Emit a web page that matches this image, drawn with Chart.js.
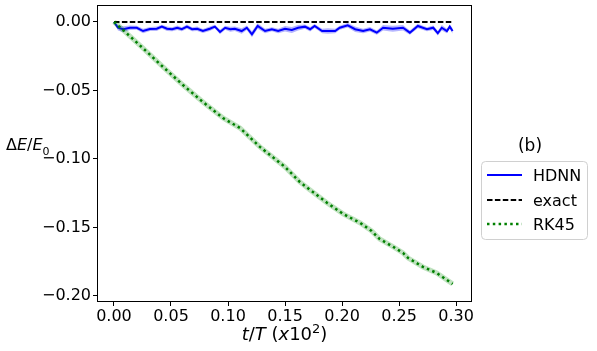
<!DOCTYPE html>
<html>
<head>
<meta charset="utf-8">
<script src="https://cdn.jsdelivr.net/npm/chart.js@4.4.1/dist/chart.umd.min.js"></script>
<style>
  html, body { margin: 0; padding: 0; background: #fff; }
  #wrap { width: 597px; height: 351px; }
</style>
</head>
<body>
<div id="wrap"><canvas id="c" width="597" height="351"></canvas></div>
<script>
// ---- data ----
const xTicks = [0.00, 0.05, 0.10, 0.15, 0.20, 0.25, 0.30];
const yTicks = [0.00, -0.05, -0.10, -0.15, -0.20];

const hdnnT = [0, 0.0035, 0.008, 0.014, 0.020, 0.0255, 0.0315, 0.0375, 0.042, 0.0465,
  0.051, 0.0555, 0.0595, 0.064, 0.0685, 0.073, 0.078, 0.084, 0.0885, 0.093,
  0.0975, 0.102, 0.106, 0.112, 0.1165, 0.121, 0.126, 0.1325, 0.1385, 0.144,
  0.150, 0.156, 0.1615, 0.1675, 0.172, 0.176, 0.1825, 0.1875, 0.194, 0.198,
  0.205, 0.2115, 0.2185, 0.2245, 0.2305, 0.236, 0.2445, 0.2535, 0.2595, 0.2665,
  0.2745, 0.280, 0.284, 0.2875, 0.292, 0.2945, 0.297];
const hdnnE = [0, -0.0042, -0.0053, -0.0042, -0.0042, -0.0066, -0.0051, -0.0049, -0.0034, -0.0049,
  -0.0053, -0.0042, -0.0053, -0.0034, -0.0053, -0.0049, -0.0066, -0.0049, -0.0034, -0.0073,
  -0.0042, -0.0053, -0.0049, -0.0066, -0.0042, -0.0090, -0.0029, -0.0066, -0.0053, -0.0066,
  -0.0049, -0.0058, -0.0042, -0.0034, -0.0053, -0.0029, -0.0066, -0.0066, -0.0066, -0.0042,
  -0.0024, -0.0053, -0.0066, -0.0053, -0.0078, -0.0042, -0.0049, -0.0042, -0.0078, -0.0029,
  -0.0053, -0.0042, -0.0082, -0.0042, -0.0066, -0.0034, -0.0066];
const hdnnSpread = [0.0006, 0.0020, 0.0022, 0.0016, 0.0014, 0.0016, 0.0014, 0.0016, 0.0014, 0.0016,
  0.0014, 0.0016, 0.0014, 0.0016, 0.0014, 0.0016, 0.0014, 0.0016, 0.0014, 0.0016,
  0.0014, 0.0018, 0.0016, 0.0020, 0.0016, 0.0022, 0.0020, 0.0016, 0.0014, 0.0016,
  0.0020, 0.0022, 0.0020, 0.0016, 0.0016, 0.0014, 0.0016, 0.0020, 0.0016, 0.0014,
  0.0016, 0.0020, 0.0016, 0.0016, 0.0016, 0.0020, 0.0022, 0.0020, 0.0016, 0.0016,
  0.0014, 0.0016, 0.0016, 0.0020, 0.0016, 0.0016, 0.0020];

const exactT = [0, 0.297];
const exactE = [0, 0];

const rkT = [0, 0.0096, 0.0254, 0.043, 0.0605, 0.078, 0.0956, 0.1105, 0.128, 0.150,
  0.1544, 0.163, 0.172, 0.187, 0.201, 0.216, 0.226, 0.233, 0.245, 0.2535,
  0.258, 0.271, 0.283, 0.297];
const rkE = [0, -0.0071, -0.0191, -0.0328, -0.0460, -0.0584, -0.0701, -0.0774, -0.0912, -0.1058,
  -0.1095, -0.1168, -0.1226, -0.1321, -0.1401, -0.1467, -0.1526, -0.1584, -0.1642, -0.1686,
  -0.1723, -0.1788, -0.1832, -0.1912];

const seriesNames = ['HDNN', 'exact', 'RK45'];
const panelLabel = '(b)';

// ---- build point tables ----
const pts = (xs, ys) => xs.map((x, i) => ({x: x, y: ys[i]}));
const hdnnLo = hdnnE.map((v, i) => v - hdnnSpread[i]);
const hdnnHi = hdnnE.map((v, i) => v + hdnnSpread[i]);

const FONT = "'DejaVu Sans', sans-serif";
const fmt = v => {
  if (Math.abs(v) < 1e-9) return '0.00';
  return (v < 0 ? '\u2212' : '') + Math.abs(v).toFixed(2);
};

const dashHDNN = [];
const dashExact = [5.5, 2.4];
const dashRK = [2.5, 3.3];

const decor = {
  id: 'decor',
  afterDraw(chart) {
    const ctx = chart.ctx;
    const a = chart.chartArea;
    ctx.save();
    // frame
    ctx.strokeStyle = '#000';
    ctx.lineWidth = 1;
    ctx.strokeRect(Math.round(a.left) + 0.5, Math.round(a.top) + 0.5,
                   Math.round(a.right - a.left) - 1, Math.round(a.bottom - a.top) - 1);

    // mixed-style text helper
    const drawRuns = (runs, x, y, align) => {
      let total = 0;
      runs.forEach(r => { ctx.font = r.font; total += ctx.measureText(r.t).width; });
      let cx = align === 'center' ? x - total / 2 : x;
      ctx.textBaseline = 'alphabetic';
      ctx.textAlign = 'left';
      runs.forEach(r => {
        ctx.font = r.font;
        ctx.fillText(r.t, cx, y + (r.dy || 0));
        cx += ctx.measureText(r.t).width;
      });
    };
    ctx.fillStyle = '#000';
    // y title
    drawRuns([
      {t: '\u0394', font: '16px ' + FONT},
      {t: 'E', font: 'italic 16px ' + FONT},
      {t: '/', font: '16px ' + FONT},
      {t: 'E', font: 'italic 16px ' + FONT},
      {t: '0', font: '11px ' + FONT, dy: 5}
    ], 6, 150, 'left');
    // x title
    drawRuns([
      {t: 't', font: 'italic 18px ' + FONT},
      {t: '/', font: '18px ' + FONT},
      {t: 'T', font: 'italic 18px ' + FONT},
      {t: ' (', font: '18px ' + FONT},
      {t: 'x', font: 'italic 18px ' + FONT},
      {t: '10', font: '18px ' + FONT},
      {t: '2', font: '13px ' + FONT, dy: -7},
      {t: ')', font: '18px ' + FONT}
    ], (a.left + a.right) / 2, 340, 'center');

    // panel label
    ctx.font = '17px ' + FONT;
    ctx.textAlign = 'center';
    ctx.fillText(panelLabel, 530, 151);

    // legend box
    const bx = 481.5, by = 161.5, bw = 106, bh = 78, r = 4;
    ctx.beginPath();
    ctx.moveTo(bx + r, by);
    ctx.lineTo(bx + bw - r, by);
    ctx.quadraticCurveTo(bx + bw, by, bx + bw, by + r);
    ctx.lineTo(bx + bw, by + bh - r);
    ctx.quadraticCurveTo(bx + bw, by + bh, bx + bw - r, by + bh);
    ctx.lineTo(bx + r, by + bh);
    ctx.quadraticCurveTo(bx, by + bh, bx, by + bh - r);
    ctx.lineTo(bx, by + r);
    ctx.quadraticCurveTo(bx, by, bx + r, by);
    ctx.closePath();
    ctx.fillStyle = 'rgba(255,255,255,0.8)';
    ctx.fill();
    ctx.strokeStyle = '#d0d0d0';
    ctx.lineWidth = 1;
    ctx.stroke();

    const items = [
      {name: seriesNames[0], color: '#0000ff', w: 2, dash: dashHDNN, y: 175},
      {name: seriesNames[1], color: '#000000', w: 2, dash: dashExact, y: 200},
      {name: seriesNames[2], color: '#008000', w: 2.5, dash: dashRK, y: 224}
    ];
    items.forEach(it => {
      ctx.beginPath();
      ctx.setLineDash(it.dash);
      ctx.lineCap = 'butt';
      ctx.strokeStyle = it.color;
      ctx.lineWidth = it.w;
      ctx.moveTo(487, it.y);
      ctx.lineTo(522, it.y);
      ctx.stroke();
      ctx.setLineDash([]);
      ctx.fillStyle = '#000';
      ctx.font = '16px ' + FONT;
      ctx.textAlign = 'left';
      ctx.textBaseline = 'alphabetic';
      ctx.fillText(it.name, 533, it.y + 6);
    });
    ctx.restore();
  }
};

const chart = new Chart(document.getElementById('c'), {
  type: 'line',
  data: {
    datasets: [
      { label: 'HDNN lo', data: pts(hdnnT, hdnnLo), borderWidth: 0, pointRadius: 0,
        borderColor: 'rgba(0,0,0,0)', fill: false, order: 6 },
      { label: 'HDNN hi', data: pts(hdnnT, hdnnHi), borderWidth: 0, pointRadius: 0,
        borderColor: 'rgba(0,0,0,0)', backgroundColor: 'rgba(70,70,255,0.4)', fill: '-1', order: 5 },
      { label: seriesNames[0], data: pts(hdnnT, hdnnE), borderColor: '#0000ff', borderWidth: 2,
        pointRadius: 0, fill: false, order: 4, tension: 0 },
      { label: seriesNames[1], data: pts(exactT, exactE), borderColor: '#000000', borderWidth: 2,
        borderDash: dashExact, pointRadius: 0, fill: false, order: 3 },
      { label: 'RK45 band', data: pts(rkT, rkE), borderColor: 'rgba(0,140,0,0.25)', borderWidth: 5,
        pointRadius: 0, fill: false, order: 2 },
      { label: seriesNames[2], data: pts(rkT, rkE), borderColor: '#008000', borderWidth: 2.5,
        borderDash: dashRK, borderCapStyle: 'butt', pointRadius: 0, fill: false, order: 1 }
    ]
  },
  options: {
    responsive: false,
    animation: false,
    devicePixelRatio: 1,
    layout: { padding: { left: 0, right: 125, top: 5, bottom: 0 } },
    plugins: { legend: { display: false }, tooltip: { enabled: false } },
    scales: {
      x: {
        type: 'linear',
        min: -0.0149, max: 0.314,
        afterBuildTicks: s => { s.ticks = xTicks.map(v => ({value: v})); },
        afterFit: s => { s.height = 49; s.paddingLeft = 0; s.paddingRight = 0; },
        ticks: { callback: v => fmt(v), font: { family: FONT, size: 16 }, color: '#000',
                 padding: 1, maxRotation: 0, autoSkip: false, includeBounds: false },
        grid: { display: true, drawOnChartArea: false, drawTicks: true, tickLength: 4,
                color: '#000', lineWidth: 1 },
        border: { display: false }
      },
      y: {
        type: 'linear',
        min: -0.2044, max: 0.0124,
        afterBuildTicks: s => { s.ticks = yTicks.map(v => ({value: v})); },
        afterFit: s => { s.width = 97; s.paddingTop = 0; s.paddingBottom = 0; },
        ticks: { callback: v => fmt(v), font: { family: FONT, size: 16 }, color: '#000',
                 padding: 2, autoSkip: false, includeBounds: false },
        grid: { display: true, drawOnChartArea: false, drawTicks: true, tickLength: 4,
                color: '#000', lineWidth: 1 },
        border: { display: false }
      }
    }
  },
  plugins: [decor]
});
</script>
</body>
</html>
